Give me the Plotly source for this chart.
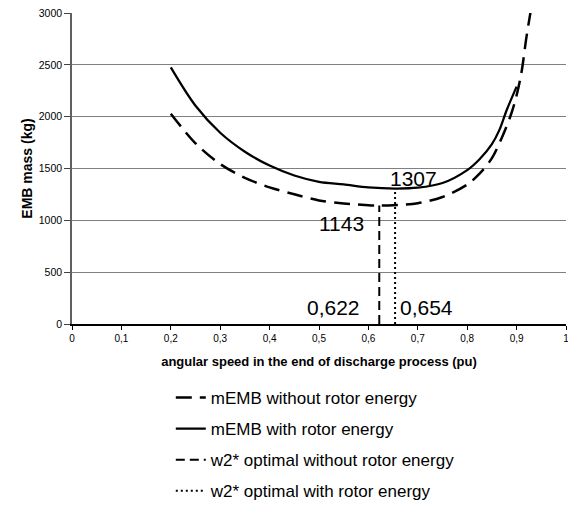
import plotly.graph_objects as go

# mEMB with rotor energy (solid)
x_with = [0.20, 0.25, 0.30, 0.35, 0.40, 0.45, 0.50, 0.55, 0.60, 0.654, 0.70, 0.75, 0.80, 0.825, 0.85, 0.865, 0.88, 0.90]
y_with = [2475, 2105, 1845, 1662, 1528, 1433, 1372, 1347, 1318, 1307, 1315, 1360, 1485, 1590, 1735, 1870, 2064, 2290]

# mEMB without rotor energy (long dash)
x_without = [0.20, 0.25, 0.30, 0.35, 0.40, 0.45, 0.50, 0.55, 0.60, 0.622, 0.65, 0.70, 0.75, 0.80, 0.825, 0.85, 0.875, 0.89, 0.90, 0.91, 0.92, 0.93]
y_without = [2029, 1743, 1543, 1410, 1318, 1252, 1192, 1162, 1146, 1143, 1145, 1165, 1225, 1345, 1450, 1600, 1852, 2040, 2205, 2430, 2770, 3060]

# optimal points
w_opt_without = 0.622
m_opt_without = 1143
w_opt_with = 0.654
m_opt_with = 1307

x_ticks = [0, 0.1, 0.2, 0.3, 0.4, 0.5, 0.6, 0.7, 0.8, 0.9, 1]
y_ticks = [0, 500, 1000, 1500, 2000, 2500, 3000]

names = ["mEMB without rotor energy", "mEMB with rotor energy",
         "w2* optimal without rotor energy", "w2* optimal with rotor energy"]

FONT = "Liberation Sans, Arial, sans-serif"

fig = go.Figure()
fig.add_trace(go.Scatter(x=x_without, y=y_without, mode="lines", name=names[0], legendgroup="a",
                         line=dict(color="black", width=2.5, dash="16px,8px", shape="spline", smoothing=0.9)))
fig.add_trace(go.Scatter(x=x_with, y=y_with, mode="lines", name=names[1], legendgroup="b",
                         line=dict(color="black", width=2.25, shape="spline", smoothing=0.9)))
fig.add_trace(go.Scatter(x=[w_opt_without, w_opt_without], y=[0, m_opt_without], mode="lines", name=names[2],
                         legendgroup="c", line=dict(color="black", width=2, dash="9px,5px")))
fig.add_trace(go.Scatter(x=[w_opt_with, w_opt_with], y=[0, m_opt_with], mode="lines", name=names[3],
                         legendgroup="d", line=dict(color="black", width=2, dash="2px,3px")))

def fmt(v):
    return str(v).replace(".", ",")

ann_font = dict(family=FONT, size=21, color="black")
fig.add_annotation(x=0.691, y=1400, text=str(m_opt_with), showarrow=False, font=ann_font)
fig.add_annotation(x=0.545, y=970, text=str(m_opt_without), showarrow=False, font=ann_font)
fig.add_annotation(x=0.530, y=160, text=fmt(w_opt_without), showarrow=False, font=ann_font)
fig.add_annotation(x=0.717, y=160, text=fmt(w_opt_with), showarrow=False, font=ann_font)

fig.add_hline(y=1500, line=dict(color="black", width=1), layer="below")

fig.update_layout(
    width=568, height=510,
    margin=dict(l=72, r=2, t=13, b=186, autoexpand=False),
    paper_bgcolor="white", plot_bgcolor="white",
    separators=", ",
    font=dict(family=FONT, color="black"),
    showlegend=True,
    legend=dict(x=0.200, xanchor="left", y=-0.18, yanchor="top", font=dict(size=17, family=FONT),
                tracegroupgap=6, bgcolor="rgba(0,0,0,0)", itemwidth=30),
    xaxis=dict(range=[0, 1], tickvals=x_ticks, showgrid=False, zeroline=False, automargin=False,
               showline=True, linecolor="black", linewidth=1.5, ticklabeloverflow="allow",
               ticks="outside", ticklen=4, tickcolor="black",
               tickfont=dict(size=10, family=FONT),
               title=dict(text="<b>angular speed in the end of discharge process (pu)</b>",
                          font=dict(size=13, family=FONT), standoff=14)),
    yaxis=dict(range=[0, 3000], tickvals=y_ticks, showgrid=True, gridcolor="#808080", gridwidth=1,
               zeroline=False, showline=True, linecolor="#606060", linewidth=1.5, automargin=False,
               ticks="outside", ticklen=6, tickcolor="#404040",
               tickfont=dict(size=10.5, family=FONT),
               title=dict(text="<b>EMB mass (kg)</b>", font=dict(size=14, family=FONT), standoff=3)),
)

fig.write_html("out.html", config={"displayModeBar": False},
               post_script="document.body.style.margin='0';")
